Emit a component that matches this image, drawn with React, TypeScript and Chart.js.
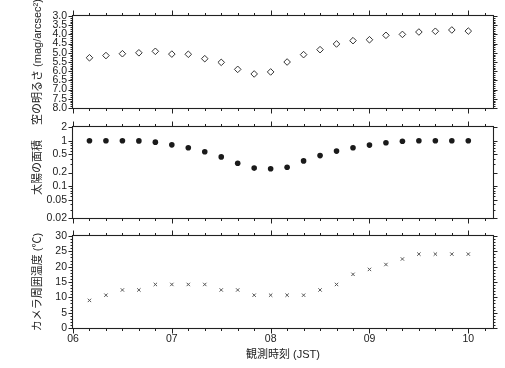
import React, { useEffect, useRef } from "react";
import { Chart, registerables } from "chart.js";

Chart.register(...registerables);

// ---- data ----
const times = [
  "06:10", "06:20", "06:30", "06:40", "06:50", "07:00", "07:10", "07:20",
  "07:30", "07:40", "07:50", "08:00", "08:10", "08:20", "08:30", "08:40",
  "08:50", "09:00", "09:10", "09:20", "09:30", "09:40", "09:50", "10:00",
];
const skyBrightness = [
  5.27, 5.15, 5.05, 5.0, 4.92, 5.07, 5.08, 5.32, 5.52, 5.9, 6.15, 6.04,
  5.5, 5.1, 4.83, 4.52, 4.34, 4.29, 4.05, 4.0, 3.87, 3.83, 3.76, 3.82,
];
const sunArea = [
  1.0, 1.0, 1.0, 0.99, 0.93, 0.81, 0.7, 0.57, 0.44, 0.32, 0.25, 0.242,
  0.26, 0.36, 0.47, 0.59, 0.7, 0.8, 0.9, 0.97, 1.0, 1.0, 1.0, 1.0,
];
const cameraTemp = [
  9.0, 10.7, 12.4, 12.4, 14.2, 14.2, 14.2, 14.2, 12.4, 12.4, 10.7, 10.7,
  10.7, 10.7, 12.4, 14.2, 17.5, 19.1, 20.7, 22.5, 24.1, 24.1, 24.1, 24.1,
];
const brightnessTicks = [3.0, 3.5, 4.0, 4.5, 5.0, 5.5, 6.0, 6.5, 7.0, 7.5, 8.0];
const sunAreaTicks = [0.02, 0.05, 0.1, 0.2, 0.5, 1, 2];
const sunAreaTickLabels = ["0.02", "0.05", "0.1", "0.2", "0.5", "1", "2"];
const tempTicks = [0, 5, 10, 15, 20, 25, 30];
const hourTicks = ["06", "07", "08", "09", "10"];
const hourValues = ["06:00", "07:00", "08:00", "09:00", "10:00"];
const xStart = "06:00";
const xEnd = "10:15";
const titles = ["空の明るさ (mag/arcsec²)", "太陽の面積", "カメラ周囲温度 (℃)"];

// ---- layout ----
const W = 505;
const H = 368;
const PLOT_LEFT = 73;
const PLOT_RIGHT = 493;
const TICK_FONT = { family: "'Liberation Sans', Arial, sans-serif", size: 10.5 };
const TITLE_FONT_STR = "11px 'Liberation Sans', 'Noto Sans CJK JP', sans-serif";
const TITLE_FONT = { family: "'Liberation Sans', 'Noto Sans CJK JP', sans-serif", size: 11 };
const TEXT = "#222";

const toMin = (t: string) => {
  const [h, m] = t.split(":").map(Number);
  return h * 60 + m;
};
const X_MIN = toMin(xStart);
const X_MAX = toMin(xEnd);

function range(a: number, b: number, step: number) {
  const out: number[] = [];
  for (let v = a; v <= b + 1e-9; v += step) out.push(Math.round(v * 1000) / 1000);
  return out;
}

const frameTicks = {
  id: "frameTicks",
  afterDraw(chart: any, _args: any, opts: any) {
    const { ctx, chartArea: a, scales } = chart;
    const x = scales.x;
    const y = scales.y;
    const L = Math.round(a.left) - 0.5;
    const R = Math.round(a.right) + 0.5;
    const T = Math.round(a.top) - 0.5;
    const B = Math.round(a.bottom) + 0.5;
    ctx.save();
    ctx.strokeStyle = "#222";
    ctx.lineWidth = 1;
    ctx.beginPath();
    const seg = (x1: number, y1: number, x2: number, y2: number) => {
      ctx.moveTo(x1, y1);
      ctx.lineTo(x2, y2);
    };
    for (let m = X_MIN; m <= X_MAX; m += 10) {
      const px = Math.round(x.getPixelForValue(m)) + 0.5;
      const len = m % 60 === 0 ? 5 : 2.5;
      seg(px, T, px, T - len);
      seg(px, B, px, B + len);
    }
    for (const v of opts.major || []) {
      const py = Math.round(y.getPixelForValue(v)) + 0.5;
      seg(L, py, L - 4, py);
      seg(R, py, R + 4, py);
    }
    for (const v of opts.minor || []) {
      const py = Math.round(y.getPixelForValue(v)) + 0.5;
      seg(L, py, L - 2, py);
      seg(R, py, R + 2, py);
    }
    ctx.stroke();
    ctx.lineWidth = 1.1;
    ctx.strokeRect(L, T, R - L, B - T);

    // y-axis title (rotated, allowed to overflow the panel like the original)
    if (opts.title) {
      const cy = (a.top + a.bottom) / 2 + (opts.titleShift || 0);
      ctx.translate(38, cy);
      ctx.rotate(-Math.PI / 2);
      ctx.font = TITLE_FONT_STR;
      ctx.fillStyle = TEXT;
      ctx.textAlign = "center";
      ctx.textBaseline = "middle";
      ctx.fillText(opts.title, 0, 0);
    }
    ctx.restore();
  },
};

function makePoints(vals: number[]) {
  return times.map((t, i) => ({ x: toMin(t), y: vals[i] }));
}

function xScale(show: boolean) {
  const base: any = {
    type: "linear",
    min: X_MIN,
    max: X_MAX,
    display: show,
    grid: { display: false, drawTicks: false },
    border: { display: false },
  };
  if (show) {
    base.afterBuildTicks = (s: any) => {
      s.ticks = hourValues.map((t) => ({ value: toMin(t) }));
    };
    base.afterFit = (s: any) => {
      s.height = H - 328;
    };
    base.ticks = {
      autoSkip: false,
      maxRotation: 0,
      padding: 5,
      font: TICK_FONT,
      color: TEXT,
      callback: (_v: any, i: number) => hourTicks[i],
    };
    base.title = {
      display: true,
      text: "観測時刻 (JST)",
      font: TITLE_FONT,
      color: TEXT,
      padding: { top: 0, bottom: 6 },
    };
  }
  return base;
}

function yScaleBase(ticksArr: number[], cb: (v: any, i: number) => string) {
  return {
    afterBuildTicks: (s: any) => {
      s.ticks = ticksArr.map((v) => ({ value: v }));
    },
    afterFit: (s: any) => {
      s.width = PLOT_LEFT;
    },
    ticks: {
      autoSkip: false,
      padding: 6,
      font: TICK_FONT,
      color: TEXT,
      callback: cb,
    },
    grid: { display: false, drawTicks: false },
    border: { display: false },
  };
}

function buildConfigs(): any[] {
  const common = (top: number, bottom: number) => ({
    animation: false,
    responsive: false,
    devicePixelRatio: 1,
    layout: { padding: { left: 0, right: W - PLOT_RIGHT, top, bottom } },
    events: [],
  });

  const c1 = {
    type: "scatter",
    data: {
      datasets: [
        {
          data: makePoints(skyBrightness),
          pointStyle: "rectRot",
          pointRadius: 3.3,
          borderWidth: 1,
          borderColor: "#333",
          backgroundColor: "#fff",
        },
      ],
    },
    options: {
      ...common(16, H - 108),
      scales: {
        x: xScale(false),
        y: {
          type: "linear",
          min: 3,
          max: 8,
          reverse: true,
          ...yScaleBase(brightnessTicks, (v: any) => Number(v).toFixed(1)),
        },
      },
      plugins: {
        legend: { display: false },
        tooltip: { enabled: false },
        frameTicks: { major: brightnessTicks, minor: range(3, 8, 0.1), title: titles[0], titleShift: 0 },
      },
    },
    plugins: [frameTicks],
  };

  const logMinor: number[] = [];
  [0.01, 0.1, 1].forEach((d) => {
    for (let k = 2; k <= 9; k++) logMinor.push(Math.round(k * d * 1000) / 1000);
  });

  const c2 = {
    type: "scatter",
    data: {
      datasets: [
        {
          data: makePoints(sunArea),
          pointStyle: "circle",
          pointRadius: 2.8,
          borderWidth: 0,
          borderColor: "#1a1a1a",
          backgroundColor: "#1a1a1a",
        },
      ],
    },
    options: {
      ...common(127, H - 218),
      scales: {
        x: xScale(false),
        y: {
          type: "logarithmic",
          min: 0.02,
          max: 2,
          ...yScaleBase(sunAreaTicks, (_v: any, i: number) => sunAreaTickLabels[i]),
        },
      },
      plugins: {
        legend: { display: false },
        tooltip: { enabled: false },
        frameTicks: {
          major: sunAreaTicks,
          minor: logMinor.filter((v) => v > 0.02 && v < 2 && !sunAreaTicks.includes(v)),
          title: titles[1],
          titleShift: -5,
        },
      },
    },
    plugins: [frameTicks],
  };

  const c3 = {
    type: "scatter",
    data: {
      datasets: [
        {
          data: makePoints(cameraTemp),
          pointStyle: "crossRot",
          pointRadius: 2.4,
          borderWidth: 1,
          borderColor: "#555",
          backgroundColor: "#555",
        },
      ],
    },
    options: {
      ...common(236, 0),
      scales: {
        x: xScale(true),
        y: {
          type: "linear",
          min: 0,
          max: 30,
          ...yScaleBase(tempTicks, (v: any) => String(v)),
        },
      },
      plugins: {
        legend: { display: false },
        tooltip: { enabled: false },
        frameTicks: { major: tempTicks, minor: range(0, 30, 1), title: titles[2], titleShift: 0 },
      },
    },
    plugins: [frameTicks],
  };

  return [c1, c2, c3];
}

export default function App() {
  const r1 = useRef<HTMLCanvasElement>(null);
  const r2 = useRef<HTMLCanvasElement>(null);
  const r3 = useRef<HTMLCanvasElement>(null);

  useEffect(() => {
    const cfgs = buildConfigs();
    const refs = [r1, r2, r3];
    const charts = refs.map((r, i) => new Chart(r.current as HTMLCanvasElement, cfgs[i]));
    return () => charts.forEach((c) => c.destroy());
  }, []);

  const cs: React.CSSProperties = { position: "absolute", left: 0, top: 0, width: W, height: H };
  return (
    <div style={{ position: "fixed", left: 0, top: 0, width: W, height: H, background: "#fff" }}>
      <canvas ref={r1} width={W} height={H} style={cs} />
      <canvas ref={r2} width={W} height={H} style={cs} />
      <canvas ref={r3} width={W} height={H} style={cs} />
    </div>
  );
}
